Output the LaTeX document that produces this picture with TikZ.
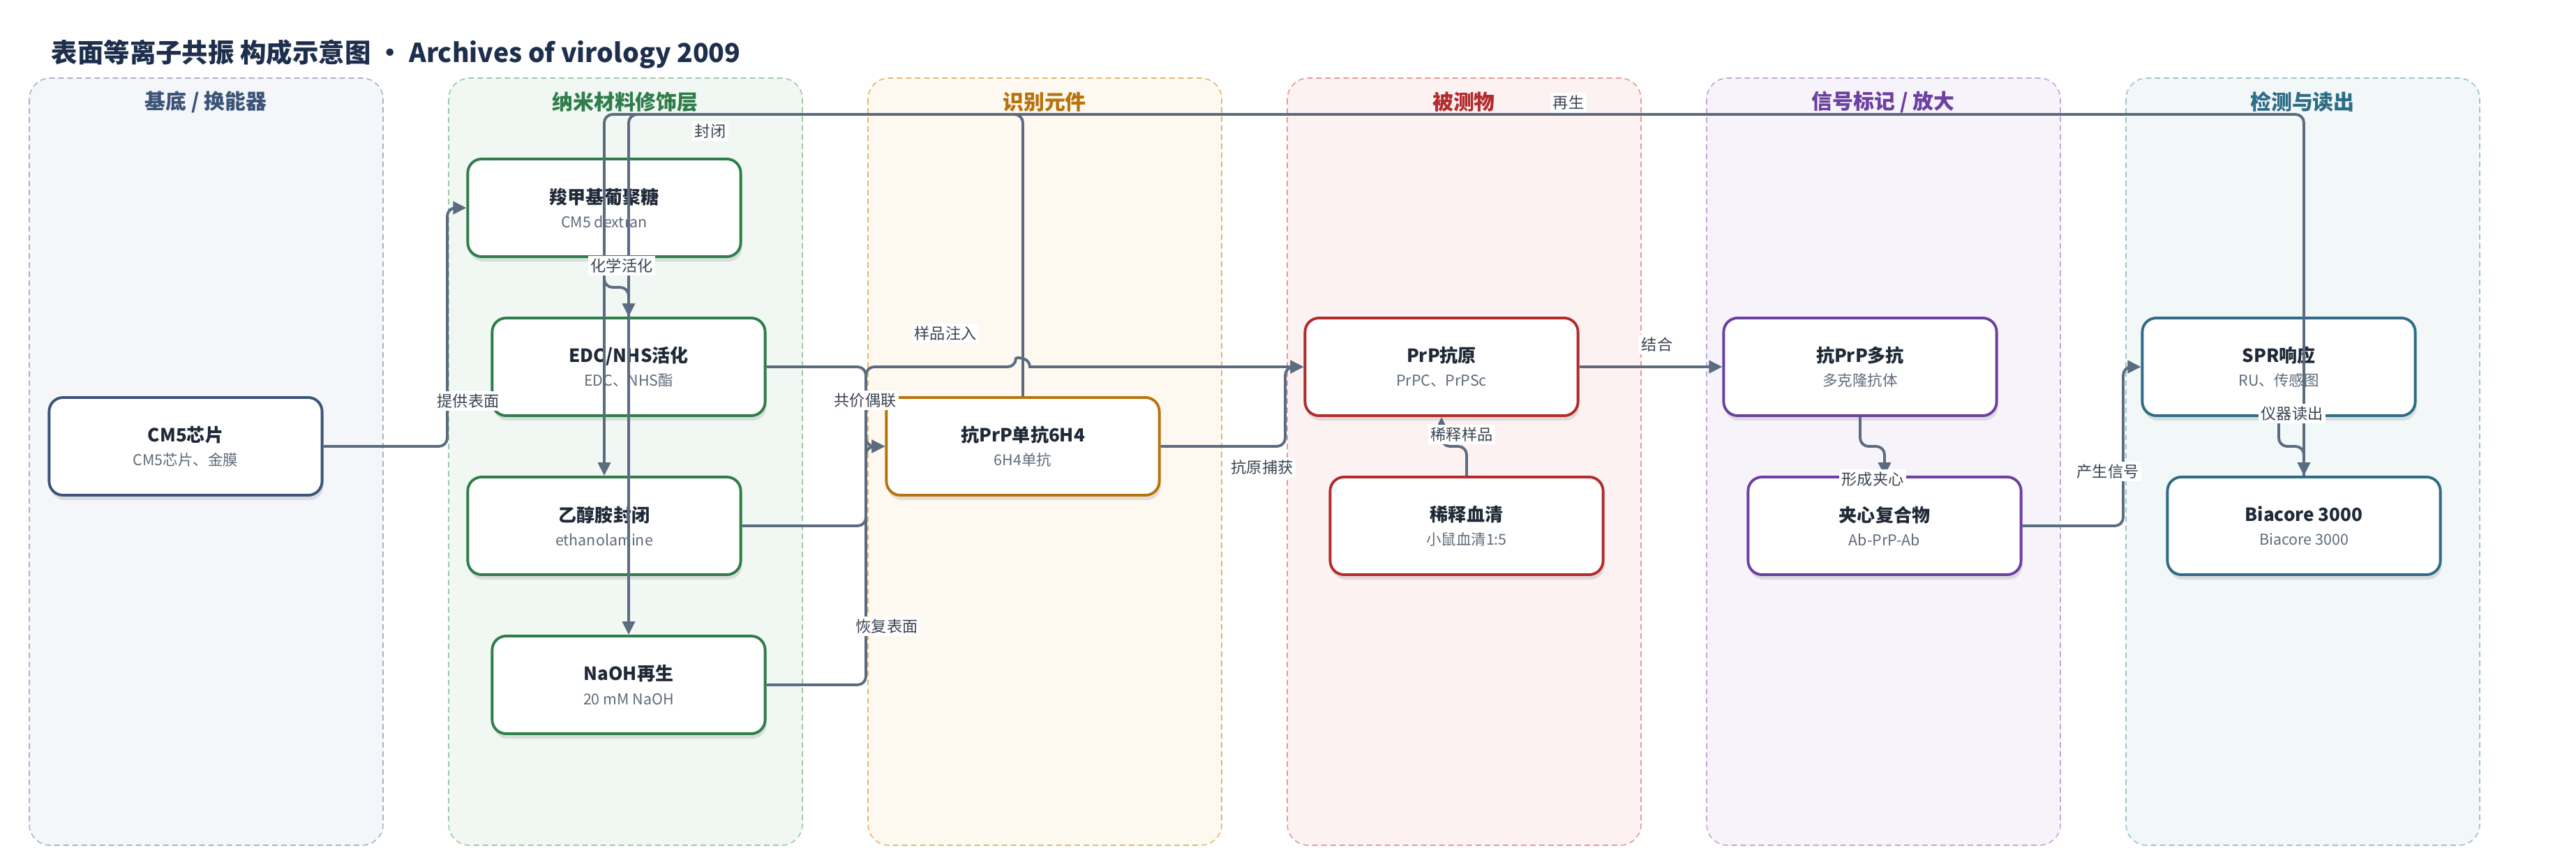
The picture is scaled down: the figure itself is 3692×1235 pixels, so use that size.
\documentclass[tikz,border=0pt]{standalone}
\usepackage{fontspec}
\setmainfont{Noto Sans CJK SC}
\usetikzlibrary{arrows.meta,shadows}

\definecolor{titlenavy}{HTML}{1E2F4D}
\definecolor{wire}{HTML}{5B6B80}
\definecolor{labeltxt}{HTML}{3A4350}
\definecolor{headtxt}{HTML}{1F2937}
\definecolor{subtxt}{HTML}{5F6B7A}
\definecolor{subsfill}{HTML}{F4F6FA}  \definecolor{subsline}{HTML}{A7B3C6}  \definecolor{subscol}{HTML}{3B5478}
\definecolor{nanofill}{HTML}{F1F8F3}  \definecolor{nanoline}{HTML}{9CC9A8}  \definecolor{nanocol}{HTML}{2E7D4A}
\definecolor{recfill}{HTML}{FDF8F0}   \definecolor{recline}{HTML}{E3B673}   \definecolor{reccol}{HTML}{B8730D}
\definecolor{anafill}{HTML}{FDF2F2}   \definecolor{analine}{HTML}{E49A9A}   \definecolor{anacol}{HTML}{B32B2B}
\definecolor{sigfill}{HTML}{F7F3FB}   \definecolor{sigline}{HTML}{C3A6DD}   \definecolor{sigcol}{HTML}{6B40A0}
\definecolor{detfill}{HTML}{F2F7F8}   \definecolor{detline}{HTML}{9EC3CD}   \definecolor{detcol}{HTML}{2E6C87}

\newcommand{\boxtext}[2]{{\fontsize{7.4}{9.7}\selectfont\bfseries\color{headtxt}#1}\\{\color{subtxt}#2}}

\begin{document}
\begin{tikzpicture}[x=0.01cm,y=-0.01cm,
                    every node/.style={inner sep=0pt},
                    lane/.style 2 args={fill=#1,draw=#2,line width=0.45pt,dash pattern=on 0.08cm off 0.05cm,rounded corners=0.3cm},
                    lanetitle/.style={font=\fontsize{8.5}{10}\selectfont\bfseries,text=#1},
                    box/.style={draw=#1,fill=white,line width=1.1pt,rounded corners=0.2cm,minimum width=3.91cm,minimum height=1.4cm,
                                align=center,font=\fontsize{6.1}{9.7}\selectfont,
                                drop shadow={shadow xshift=0.02cm,shadow yshift=-0.07cm,opacity=0.15,fill=black!70}},
                    conn/.style={draw=wire,line width=1.1pt,rounded corners=0.12cm,-{Triangle[length=0.19cm,width=0.18cm]}},
                    wirelabel/.style={fill=white,inner sep=1pt,font=\fontsize{6.3}{7}\selectfont,text=labeltxt}]
  \useasboundingbox (0,0) rectangle (3692,1235);

  % lanes
  \draw[lane={subsfill}{subsline}] (42,112)   rectangle (549,1212);
  \draw[lane={nanofill}{nanoline}] (643,112)  rectangle (1150,1212);
  \draw[lane={recfill}{recline}]   (1244,112) rectangle (1751,1212);
  \draw[lane={anafill}{analine}]   (1845,112) rectangle (2352,1212);
  \draw[lane={sigfill}{sigline}]   (2446,112) rectangle (2953,1212);
  \draw[lane={detfill}{detline}]   (3047,112) rectangle (3554,1212);
  \node[lanetitle=subscol] (t1) at (295,146)  {基底 / 换能器};
  \node[lanetitle=nanocol] (t2) at (896,146)  {纳米材料修饰层};
  \node[lanetitle=reccol]  (t3) at (1497,146) {识别元件};
  \node[lanetitle=anacol]  (t4) at (2098,146) {被测物};
  \node[lanetitle=sigcol]  (t5) at (2699,146) {信号标记 / 放大};
  \node[lanetitle=detcol]  (t6) at (3300,146) {检测与读出};

  \node[anchor=west,font=\fontsize{10.65}{12}\selectfont\bfseries,text=titlenavy] (title) at (73,78)
       {表面等离子共振 构成示意图 · Archives of virology 2009};

  % nodes
  \node[box=subscol] (cm5)   at (266,640)  {\boxtext{CM5芯片}{CM5芯片、金膜}};
  \node[box=nanocol] (dex)   at (866,298)  {\boxtext{羧甲基葡聚糖}{CM5 dextran}};
  \node[box=nanocol] (edc)   at (901,526)  {\boxtext{EDC/NHS活化}{EDC、NHS酯}};
  \node[box=nanocol] (eth)   at (866,754)  {\boxtext{乙醇胺封闭}{ethanolamine}};
  \node[box=nanocol] (naoh)  at (901,982)  {\boxtext{NaOH再生}{20 mM NaOH}};
  \node[box=reccol]  (mab)   at (1466,640) {\boxtext{抗PrP单抗6H4}{6H4单抗}};
  \node[box=anacol]  (prp)   at (2066,526) {\boxtext{PrP抗原}{PrPC、PrPSc}};
  \node[box=anacol]  (serum) at (2102,754) {\boxtext{稀释血清}{小鼠血清1:5}};
  \node[box=sigcol]  (pab)   at (2666,526) {\boxtext{抗PrP多抗}{多克隆抗体}};
  \node[box=sigcol]  (sand)  at (2701,754) {\boxtext{夹心复合物}{Ab-PrP-Ab}};
  \node[box=detcol]  (spr)   at (3266,526) {\boxtext{SPR响应}{RU、传感图}};
  \node[box=detcol]  (bia)   at (3302,754) {\boxtext{Biacore 3000}{Biacore 3000}};

  % connectors
  \draw[conn] (cm5.east) -- (641,640) |- (dex.west);
  \draw[conn] (dex.south) -- (866,412) -| (edc.north);
  \draw[conn] (edc.east) -- (1241,526) |- (mab.west);
  \draw[conn] (mab.north) -- (1466,164) -| (eth.north);
  \draw[conn] (eth.east) -- (1241,754) |- (1456,526) [sharp corners] .. controls (1456,512) and (1476,512) .. (1476,526) -- (prp.west);
  \draw[conn] (naoh.east) -- (1241,982) |- (mab.west);
  \draw[conn] (mab.east) -- (1842,640) |- (prp.west);
  \draw[conn] (serum.north) -- (2102,640) -| (prp.south);
  \draw[conn] (prp.east) -- (pab.west);
  \draw[conn] (pab.south) -- (2666,640) -| (sand.north);
  \draw[conn] (sand.east) -- (3043,754) |- (spr.west);
  \draw[conn] (spr.south) -- (3266,640) -| (bia.north);
  \draw[conn] (bia.north) -- (3302,164) -| (naoh.north);

  % connector labels
  \node[wirelabel] (l1)  at (671,575)  {提供表面};
  \node[wirelabel] (l2)  at (891,381)  {化学活化};
  \node[wirelabel] (l3)  at (1240,574) {共价偶联};
  \node[wirelabel] (l4)  at (1018,188) {封闭};
  \node[wirelabel] (l5)  at (1355,478) {样品注入};
  \node[wirelabel] (l6)  at (1271,898) {恢复表面};
  \node[wirelabel] (l7)  at (1809,670) {抗原捕获};
  \node[wirelabel] (l8)  at (2095,623) {稀释样品};
  \node[wirelabel] (l9)  at (2375,494) {结合};
  \node[wirelabel] (l10) at (2684,687) {形成夹心};
  \node[wirelabel] (l11) at (3021,676) {产生信号};
  \node[wirelabel] (l12) at (3285,593) {仪器读出};
  \node[wirelabel] (l13) at (2248,147) {再生};
\end{tikzpicture}
\end{document}
